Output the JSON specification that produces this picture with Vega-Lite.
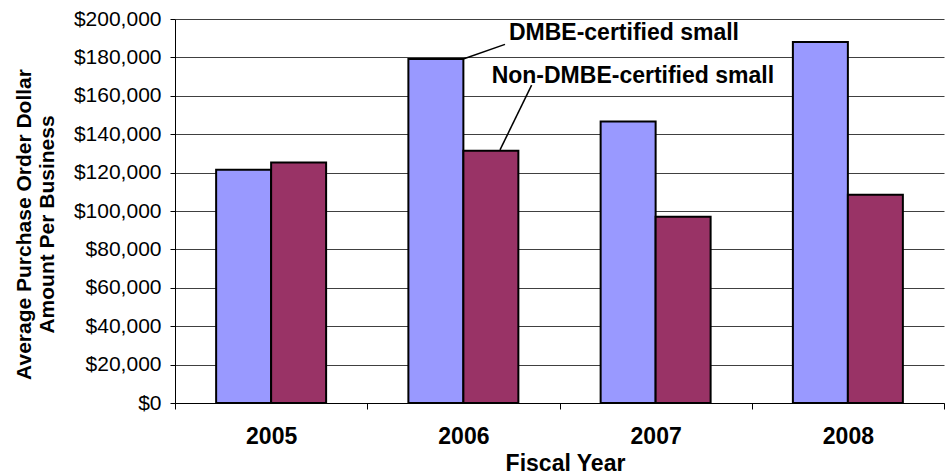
{
  "$schema": "https://vega.github.io/schema/vega-lite/v6.json",
  "autosize": {"type": "none"},
  "padding": {"left": 175, "top": 19, "right": 2, "bottom": 73},
  "width": 769,
  "height": 384,
  "background": "white",
  "config": {
    "view": {"stroke": null},
    "font": "Liberation Sans"
  },
  "datasets": {
    "bars": [
      {"year": "2005", "series": "DMBE-certified small", "value": 121500},
      {"year": "2005", "series": "Non-DMBE-certified small", "value": 125300},
      {"year": "2006", "series": "DMBE-certified small", "value": 179200},
      {"year": "2006", "series": "Non-DMBE-certified small", "value": 131400},
      {"year": "2007", "series": "DMBE-certified small", "value": 146600},
      {"year": "2007", "series": "Non-DMBE-certified small", "value": 97000},
      {"year": "2008", "series": "DMBE-certified small", "value": 188000},
      {"year": "2008", "series": "Non-DMBE-certified small", "value": 108500}
    ],
    "labels": [
      {"label": "DMBE-certified small", "ax": 1.737, "value": 189000},
      {"label": "Non-DMBE-certified small", "ax": 1.647, "value": 166500}
    ],
    "leaders": [
      {"ax": 1.7165, "value": 186800, "ax2": 1.4994, "value2": 179200},
      {"ax": 1.855, "value": 165600, "ax2": 1.6905, "value2": 131800}
    ]
  },
  "encoding": {
    "y": {
      "field": "value",
      "type": "quantitative",
      "scale": {"domain": [0, 200000], "nice": false},
      "axis": {
        "values": [0, 20000, 40000, 60000, 80000, 100000, 120000, 140000, 160000, 180000, 200000],
        "format": "$,.0f",
        "labelFont": "Liberation Sans",
        "labelFontSize": 21,
        "labelColor": "black",
        "labelPadding": 9,
        "labelOverlap": false,
        "labelFlush": false,
        "tickSize": 5,
        "tickColor": "black",
        "domainColor": "black",
        "domainWidth": 1,
        "grid": true,
        "gridColor": "#404040",
        "gridWidth": 1,
        "title": ["Average Purchase Order Dollar", "Amount Per Business"],
        "titleFont": "Liberation Sans",
        "titleFontSize": 21,
        "titleFontWeight": "bold",
        "titleColor": "black",
        "titleAngle": -90,
        "titleAlign": "center",
        "titleBaseline": "alphabetic",
        "titleLineHeight": 23,
        "titleX": -145,
        "titleY": 205
      }
    }
  },
  "layer": [
    {
      "data": {"name": "bars"},
      "mark": {"type": "bar", "stroke": "black", "strokeWidth": 2},
      "encoding": {
        "x": {
          "field": "year",
          "type": "nominal",
          "scale": {"paddingInner": 0, "paddingOuter": 0},
          "axis": {
            "title": "Fiscal Year",
            "labelAngle": 0,
            "labelFont": "Liberation Sans",
            "labelFontSize": 23,
            "labelFontWeight": "bold",
            "labelColor": "black",
            "labelBaseline": "alphabetic",
            "labelPadding": 34,
            "labelOverlap": false,
            "tickBand": "extent",
            "tickSize": 6,
            "tickColor": "black",
            "domainColor": "black",
            "domainWidth": 1,
            "grid": false,
            "titleFont": "Liberation Sans",
            "titleFontSize": 23,
            "titleFontWeight": "bold",
            "titleColor": "black",
            "titleBaseline": "alphabetic",
            "titleX": 390,
            "titleY": 67
          }
        },
        "xOffset": {
          "field": "series",
          "type": "nominal",
          "scale": {"paddingInner": 0, "paddingOuter": 0.748}
        },
        "color": {
          "field": "series",
          "type": "nominal",
          "scale": {"domain": ["DMBE-certified small", "Non-DMBE-certified small"], "range": ["#9999FF", "#993366"]},
          "legend": null
        }
      }
    },
    {
      "data": {"name": "leaders"},
      "mark": {"type": "rule", "color": "black", "strokeWidth": 1.5},
      "encoding": {
        "x": {"field": "ax", "type": "quantitative", "scale": {"domain": [0, 4], "nice": false, "zero": false}, "axis": null},
        "x2": {"field": "ax2"},
        "y2": {"field": "value2"}
      }
    },
    {
      "data": {"name": "labels"},
      "mark": {"type": "text", "align": "left", "baseline": "alphabetic", "font": "Liberation Sans", "fontSize": 23, "fontWeight": "bold", "color": "black"},
      "encoding": {
        "x": {"field": "ax", "type": "quantitative", "scale": {"domain": [0, 4], "nice": false, "zero": false}, "axis": null},
        "text": {"field": "label"}
      }
    }
  ],
  "resolve": {"scale": {"x": "independent"}}
}
